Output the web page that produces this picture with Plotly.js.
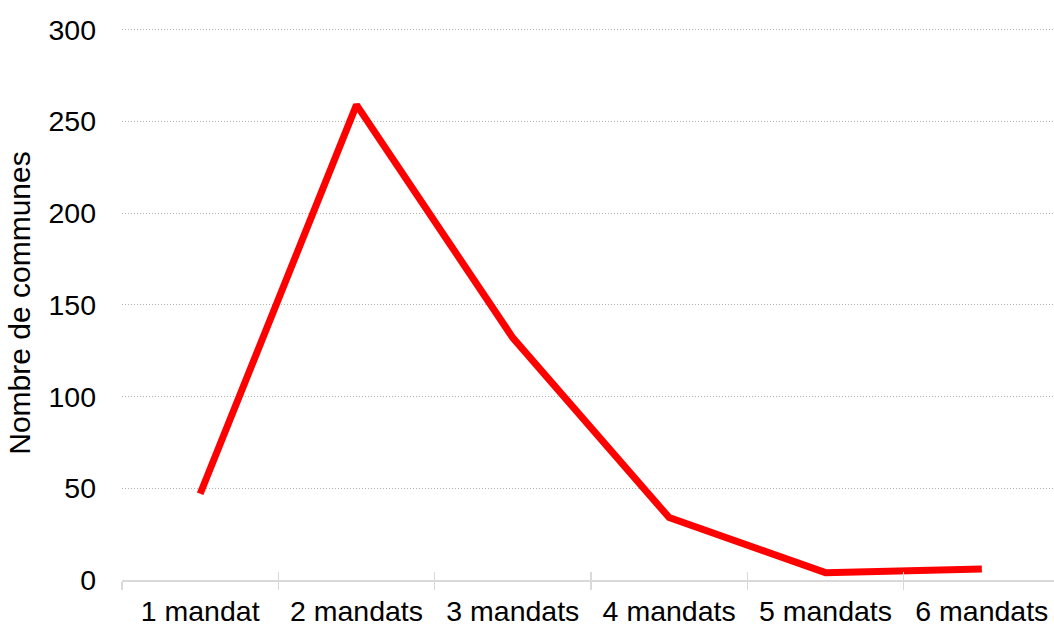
<!DOCTYPE html>
<html>
<head>
<meta charset="utf-8">
<script src="https://cdn.plot.ly/plotly-3.0.1.min.js"></script>
<style>
html, body { margin: 0; padding: 0; overflow: hidden; background: #fff; }
#chart { width: 1060px; height: 626px; }
</style>
</head>
<body>
<div id="chart"></div>
<script>
const categories = ["1 mandat", "2 mandats", "3 mandats", "4 mandats", "5 mandats", "6 mandats"];
const communes = [47, 259, 132, 34, 4, 6];
const yTicks = [0, 50, 100, 150, 200, 250, 300];
const yTitle = "Nombre de communes";

const tickFont = { family: "Liberation Sans, Arial, sans-serif", size: 28.5, color: "#000000" };
const titleFont = { family: "Liberation Sans, Arial, sans-serif", size: 30, color: "#000000" };

const traces = [
  {
    x: categories, y: communes, type: "scatter", mode: "lines",
    line: { color: "#ff0000", width: 7 },
    hoverinfo: "skip", xaxis: "x", yaxis: "y", cliponaxis: false
  },
  {
    x: categories, y: communes, type: "scatter", mode: "lines",
    line: { color: "rgba(0,0,0,0)", width: 0 },
    hoverinfo: "skip", xaxis: "x2", yaxis: "y", showlegend: false
  }
];

const layout = {
  width: 1060, height: 626,
  margin: { l: 122, r: 0, t: 26, b: 46 },
  paper_bgcolor: "#ffffff", plot_bgcolor: "#ffffff",
  showlegend: false,
  font: tickFont,
  xaxis: {
    type: "category", range: [-0.5, 5.5],
    tickson: "boundaries", ticks: "outside", ticklen: 8, tickwidth: 1.5, tickcolor: "#d9d9d9",
    showline: true, linecolor: "#d9d9d9", linewidth: 1.5,
    showgrid: false, zeroline: false,
    tickfont: tickFont, ticklabelstandoff: 5
  },
  xaxis2: {
    type: "category", range: [-0.5, 5.5], overlaying: "x", anchor: "y",
    tickson: "boundaries", ticks: "inside", ticklen: 8, tickwidth: 1.5, tickcolor: "#d9d9d9",
    showticklabels: false, showline: false, showgrid: false, zeroline: false
  },
  yaxis: {
    range: [0, 302], tickvals: yTicks, ticktext: yTicks.map(String),
    showgrid: true, gridcolor: "#b0b0b0", griddash: "1px,2px", gridwidth: 1,
    zeroline: false, showline: false, ticks: "",
    tickfont: tickFont, ticklabelstandoff: 25,
    title: { text: yTitle, font: titleFont, standoff: 8 }
  }
};

Plotly.newPlot("chart", traces, layout, { displayModeBar: false, staticPlot: true });
</script>
</body>
</html>
